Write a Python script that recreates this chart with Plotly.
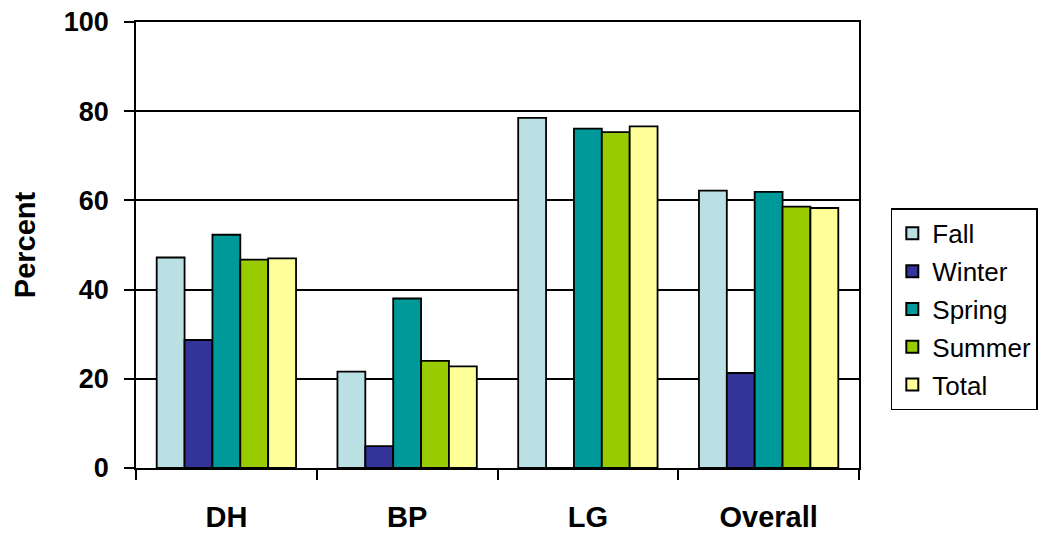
import plotly.graph_objects as go

categories = ["DH", "BP", "LG", "Overall"]
fall = [47.2, 21.6, 78.5, 62.2]
winter = [28.7, 4.9, 0, 21.3]
spring = [52.3, 38.0, 76.1, 61.9]
summer = [46.7, 24.0, 75.3, 58.6]
total = [47.0, 22.8, 76.6, 58.3]

series = [
    ("Fall", fall, "#BBE0E3"),
    ("Winter", winter, "#333399"),
    ("Spring", spring, "#009999"),
    ("Summer", summer, "#99CC00"),
    ("Total", total, "#FFFF99"),
]

FONT = "Arial, Liberation Sans, sans-serif"

fig = go.Figure()
for name, vals, col in series:
    fig.add_trace(go.Bar(
        x=categories, y=vals, name=name, legendgroup=name,
        marker=dict(color=col, line=dict(color="black", width=1.8)),
    ))

fig.update_layout(
    width=1040, height=533,
    margin=dict(l=136, r=181, t=22, b=65, autoexpand=False),
    paper_bgcolor="white", plot_bgcolor="white",
    barmode="group", bargap=0.229, bargroupgap=0,
    font=dict(family=FONT, color="black"),
    legend=dict(
        x=1.044, y=0.582, xanchor="left", yanchor="top",
        bordercolor="black", borderwidth=1.5,
        font=dict(size=26, family=FONT, color="black"),
        tracegroupgap=1, itemsizing="constant",
    ),
    showlegend=True,
)

fig.update_xaxes(
    showline=True, linecolor="black", linewidth=1.5, mirror=True,
    ticks="outside", tickson="boundaries", ticklen=10, tickwidth=1.5, tickcolor="black",
    tickfont=dict(size=29, family=FONT, color="black", weight="bold"),
    ticklabelstandoff=22, automargin=False,
    showgrid=False,
)
fig.update_yaxes(
    range=[0, 100], dtick=20,
    showline=True, linecolor="black", linewidth=1.5, mirror=True,
    ticks="outside", ticklen=10, tickwidth=1.5, tickcolor="black",
    tickfont=dict(size=27, family=FONT, color="black", weight="bold"),
    ticklabelstandoff=10, automargin=False,
    showgrid=True, gridcolor="black", gridwidth=1.5,
    zeroline=False,
    title=dict(text="Percent", font=dict(size=29, family=FONT, color="black", weight="bold"), standoff=20),
)

fig.write_html("out.html")
